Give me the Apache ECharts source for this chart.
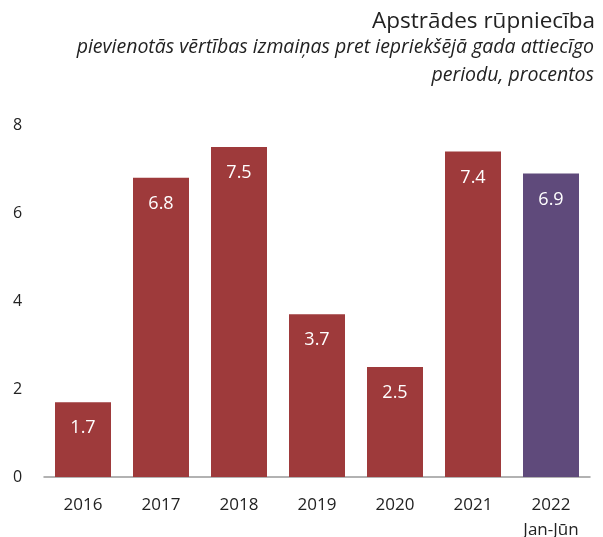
<!DOCTYPE html>
<html>
<head>
<meta charset="utf-8">
<script src="https://cdn.jsdelivr.net/npm/echarts@6/dist/echarts.min.js"></script>
<style>
  html, body { margin: 0; padding: 0; background: #fff; }
  #chart-container { width: 603px; height: 537px; }
</style>
</head>
<body>
<div id="chart-container"></div>
<script>
// data
let categories = ['2016', '2017', '2018', '2019', '2020', '2021', '2022\nJan-Jūn']
let values = [1.7, 6.8, 7.5, 3.7, 2.5, 7.4, 6.9]
let yTicks = [0, 2, 4, 6, 8]
let titleText = 'Apstrādes rūpniecība'
let subtitleLines = ['pievienotās vērtības izmaiņas pret iepriekšējā gada attiecīgo', 'periodu, procentos']

let dom = document.getElementById('chart-container')
let myChart = echarts.init(dom, null, { renderer: 'canvas' })

let fontName = '"Open Sans", "Noto Sans", sans-serif'
let barData = []
for (let i = 0; i < values.length; i++) {
    barData.push({
        value: values[i],
        itemStyle: { color: i == values.length - 1 ? '#5f4a7b' : '#9e3a3b' }
    })
}

let titles = [{
    text: titleText,
    right: 3, top: 5,
    textStyle: { fontSize: 22.5, fontWeight: 'normal', color: '#222', fontFamily: fontName }
}]
for (let i = 0; i < subtitleLines.length; i++) {
    titles.push({
        text: subtitleLines[i],
        right: 4, top: 32 + i * 28,
        textStyle: { fontSize: 19.5, fontStyle: 'italic', fontWeight: 'normal', color: '#222', fontFamily: fontName }
    })
}

let option = {
    animation: false,
    textStyle: { fontFamily: fontName },
    title: titles,
    grid: { left: 44, right: 13, top: 125, bottom: 60, outerBoundsMode: 'none' },
    xAxis: {
        type: 'category',
        data: categories,
        axisLine: { lineStyle: { color: '#999', width: 1.5 } },
        axisTick: { show: false },
        axisLabel: { color: '#222', fontSize: 17, lineHeight: 25, margin: 16 }
    },
    yAxis: {
        type: 'value',
        min: yTicks[0],
        max: yTicks[yTicks.length - 1],
        interval: 2,
        splitLine: { show: false },
        axisLine: { show: false },
        axisLabel: { color: '#222', fontSize: 16, align: 'left', margin: 31 }
    },
    series: [
        {
            type: 'bar',
            data: barData,
            barWidth: 56,
            label: {
                show: true,
                position: 'insideTop',
                distance: 17,
                color: '#fff',
                fontSize: 18
            }
        }
    ]
}
myChart.setOption(option)
window.addEventListener('resize', myChart.resize)
</script>
</body>
</html>
